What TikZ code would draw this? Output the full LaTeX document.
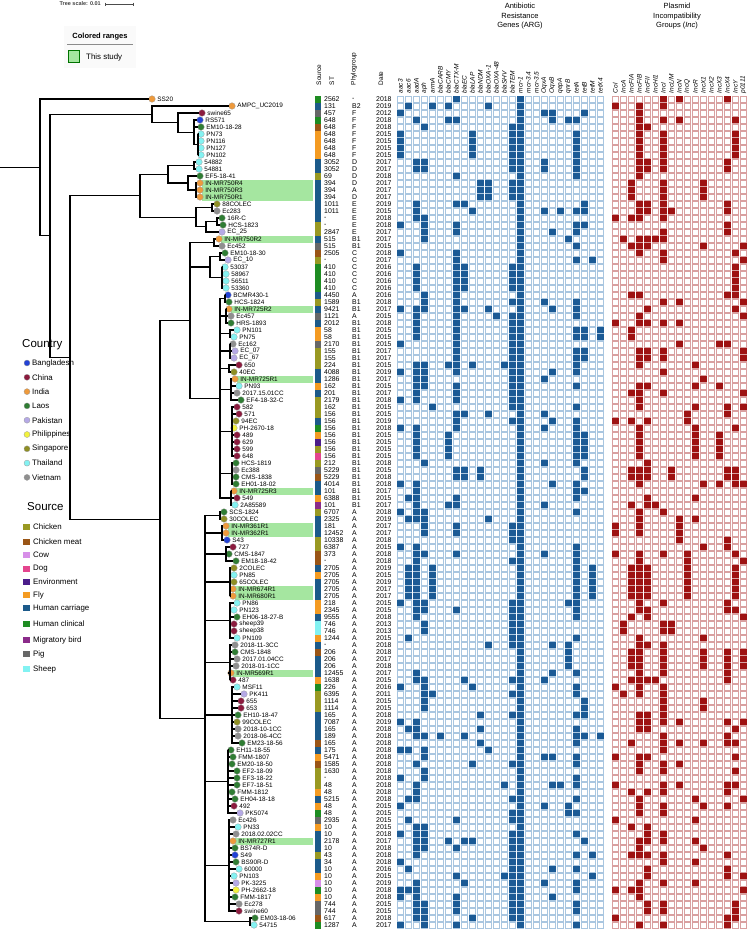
\documentclass[tikz,border=0pt]{standalone}
\usepackage{fontspec}
\setmainfont{Liberation Sans}
\usetikzlibrary{calc}
\definecolor{cBan}{HTML}{2342D6}
\definecolor{cChi}{HTML}{8C1B3E}
\definecolor{cInd}{HTML}{EE9A3C}
\definecolor{cLao}{HTML}{2F7D33}
\definecolor{cPak}{HTML}{B5A9E6}
\definecolor{cPhi}{HTML}{F2F23E}
\definecolor{cSin}{HTML}{8F8F24}
\definecolor{cTha}{HTML}{84F2F2}
\definecolor{cVie}{HTML}{8F8F8F}
\definecolor{sK}{HTML}{999922}
\definecolor{sM}{HTML}{9A5516}
\definecolor{sW}{HTML}{D78FE8}
\definecolor{sG}{HTML}{E4458E}
\definecolor{sE}{HTML}{4B1D8A}
\definecolor{sF}{HTML}{F49B22}
\definecolor{sH}{HTML}{1C5A8A}
\definecolor{sC}{HTML}{1E8C22}
\definecolor{sB}{HTML}{8B2B8A}
\definecolor{sP}{HTML}{676767}
\definecolor{sS}{HTML}{82F2F2}
\definecolor{hlg}{HTML}{A5E6A0}
\definecolor{argf}{HTML}{1B5A95}
\definecolor{argl}{HTML}{A9C6E0}
\definecolor{incf}{HTML}{9E1212}
\definecolor{incl}{HTML}{D9A0A0}
\tikzset{
 leaf/.style={circle,minimum size=6.6pt,inner sep=0pt,draw=black!40,line width=0.3pt},
 lbl/.style={font=\fontsize{6.4}{7}\selectfont,inner sep=0.8pt,anchor=west},
 col/.style={font=\fontsize{6.9}{8}\selectfont,inner sep=0pt,anchor=west},
 hdr/.style={font=\fontsize{6.5}{7}\selectfont,inner sep=0.5pt,rotate=90,anchor=west},
 branch/.style={line width=1.1pt,black},
 ecellA/.style={fill=white,draw=argl,line width=0.7pt},
 ecellI/.style={fill=white,draw=incl,line width=0.7pt},
 legtxt/.style={font=\fontsize{7.9}{9}\selectfont,inner sep=0pt,anchor=west},
 legttl/.style={font=\fontsize{11.5}{13}\selectfont,inner sep=0pt,anchor=west}
}
\newcommand\clade[5]{\path let \p1=($(#3)!0.5!(#4)$) in coordinate (#1) at (#2,\y1);
  \foreach \ch in {#5}{\draw[branch] (#1) |- (\ch);}}
\newcommand\cladeR[4]{\path let \p1=($(L#3)!0.5!(L#4)$) in coordinate (#1) at (#2,\y1);
  \foreach \k in {#3,...,#4}{\draw[branch] (#1) |- (L\k);}}
\newcommand\HA[2]{\foreach \c in {#2}{\fill[argf] ({397+8*\c},{99+7*(#1-1)-3}) rectangle ++(6.6,6);}}
\newcommand\HI[2]{\foreach \c in {#2}{\fill[incf] ({612+8*\c},{99+7*(#1-1)-3}) rectangle ++(6.6,6);}}
\begin{document}
\begin{tikzpicture}[x=1pt,y=-1pt]
\useasboundingbox (0,0) rectangle (750,929);
% tree scale
\node[font=\fontsize{5.5}{6}\selectfont\bfseries,text=black!75,anchor=east,inner sep=0pt] (tsc) at (101,4) {Tree scale: 0.01};
\coordinate (sb1) at (105,4); \coordinate (sb2) at (133,4);
\draw[black!70,line width=0.5pt] (sb1) -- (sb2);
\draw[black!70,line width=0.5pt] (105,2.5) -- (105,5.5) (133,2.5) -- (133,5.5);
% colored ranges legend
\fill[black!2] (64,26) rectangle (136,68);
\node[font=\fontsize{7.5}{9}\selectfont\bfseries,inner sep=0pt] (crt) at (100,37) {Colored ranges};
\draw[black!45,line width=0.6pt] (67,44.5) -- (133,44.5);
\node[draw=green!45!black,fill=hlg,minimum width=11pt,minimum height=12pt,inner sep=0pt,line width=0.6pt] (crb) at (74,56.5) {};
\node[legtxt] (crl) at (86,57) {This study};
% titles
\node[font=\fontsize{7.5}{9.5}\selectfont,align=center,inner sep=0pt,anchor=north] (targ) at (520,3) {Antibiotic\\Resistance\\Genes (ARG)};
\node[font=\fontsize{7.5}{9.5}\selectfont,align=center,inner sep=0pt,anchor=north] (tinc) at (677,3) {Plasmid\\Incompatibility\\Groups (\textit{Inc})};
% column headers
\node[hdr] (hsrc) at (319,86) {Source};
\node[hdr] (hst) at (332,86) {ST};
\node[hdr] (hpg) at (354,86) {Phylogroup};
\node[hdr] (hdt) at (381,86) {Date};
\foreach \g [count=\k from 0] in {aac3,aac6,aadA,aph,armA,blaCARB,blaCMY,blaCTX-M,blaEC,blaLAP,blaNDM,blaOXA-1,blaOXA-48,blaSHV,blaTEM,mcr-1,mcr-3.4,mcr-3.5,OqxA,OqxB,qepA,qnrB,tetA,tetB,tetM,tetX4}
  {\node[hdr] (ha\k) at ({400.3+8*\k},94) {\textit{\g}};}
\foreach \g [count=\k from 0] in {Col,IncA,IncFIA,IncFIB,IncFII,IncHI1,IncI,IncL/M,IncN,IncQ,IncR,IncX1,IncX2,IncX3,IncX4,IncY,p0111}
  {\node[hdr] (hi\k) at ({615.3+8*\k},94) {\textit{\g}};}
% highlights (this study)
\foreach \i/\px in {13/200,14/200,15/200,21/219,31/229,41/235,57/234,62/226,63/226,71/233,72/233,83/231,107/233}
  {\fill[hlg] ({\px+2},{99+7*(\i-1)-3.5}) rectangle (313,{99+7*(\i-1)+3.5});}
% empty heatmap cells
\foreach \i in {1,...,119}{
  \foreach \c in {0,...,25}{\filldraw[ecellA] ({397+8*\c},{99+7*(\i-1)-3}) rectangle ++(6.6,6);}
  \foreach \c in {0,...,16}{\filldraw[ecellI] ({612+8*\c},{99+7*(\i-1)-3}) rectangle ++(6.6,6);}
  \fill[argf] ({397+8*15},{99+7*(\i-1)-3}) rectangle ++(6.6,6);
}
% filled cells
\HA{1}{7} \HI{1}{6,8,14}
\HA{2}{1,4,6,11} \HI{2}{0,3,6}
\HA{3}{0,18,19,23} \HI{3}{3}
\foreach \i/\sd in {4/4,5/5,6/6,7/6,8/6,9/6,10/10,11/10,12/12,13/13,14/13,15/13,16/16,17/17,18/18,19/19,20/20,
 21/21,22/22,23/23,24/24,25/25,26/25,27/25,28/25,29/29,30/30,31/31,32/32,33/33,34/34,35/34,36/36,37/37,38/37,39/39,40/40,
 41/41,42/42,43/43,44/44,45/45,46/46,47/47,48/48,49/49,50/49,51/49,52/49,53/53,54/54,55/54,56/56,57/57,58/58,59/59,60/60,
 61/61,62/62,63/62,64/64,65/65,66/66,67/67,68/68,69/68,70/68,71/68,72/68,73/73,74/74,75/75,76/76,77/76,78/78,79/79,80/80,
 81/80,82/80,83/83,84/84,85/85,86/86,87/87,88/87,89/89,90/90,91/91,92/92,93/93,94/94,95/95,96/96,97/97,98/98,99/99,100/100,
 101/101,102/102,103/103,104/104,105/105,106/106,107/107,108/108,109/109,110/110,111/111,112/112,113/113,114/114,115/115,
 116/116,117/116,118/118,119/119}{
  \pgfmathsetseed{\sd*37+11}
  \foreach \c/\p in {0/.25,1/.08,2/.55,3/.42,4/.03,5/.02,6/.05,7/.42,8/.08,9/.08,10/.05,11/.05,12/.01,13/.05,14/.5,16/0,17/0,18/.1,19/.1,20/.02,21/.1,22/.55,23/.15,24/.03,25/.02}{
    \pgfmathtruncatemacro\hit{rnd<\p}
    \ifnum\hit=1 \fill[argf] ({397+8*\c},{99+7*(\i-1)-3}) rectangle ++(6.6,6);\fi}
  \foreach \c/\p in {0/.15,1/.02,2/.2,3/.55,4/.4,5/.05,6/.45,7/.02,8/.1,9/.05,10/.1,11/.15,12/.02,13/.05,14/.25,15/.2,16/.2}{
    \pgfmathtruncatemacro\hit{rnd<\p}
    \ifnum\hit=1 \fill[incf] ({612+8*\c},{99+7*(\i-1)-3}) rectangle ++(6.6,6);\fi}
}
% rows
\foreach \i/\px/\nm/\cc/\sc/\st/\pg/\dt in {
1/152/SS20/Ind/C/2562/-/2018,
2/232/AMPC\_UC2019/Ind/H/131/B2/2019,
3/202/swine65/Chi/P/457/F/2012,
4/200/RS571/Ban/C/648/F/2018,
5/201/EM10-18-28/Lao/M/648/F/2018,
6/201/PN73/Tha/F/648/F/2015,
7/201/PN116/Tha/F/648/F/2015,
8/201/PN127/Tha/F/648/F/2015,
9/201/PN102/Tha/F/648/F/2015,
10/199/54882/Tha/H/3052/D/2017,
11/199/54881/Tha/H/3052/D/2017,
12/200/EF5-18-41/Lao/K/69/D/2018,
13/200/IN-MR750R4/Ind/H/394/D/2017,
14/200/IN-MR750R3/Ind/H/394/A/2017,
15/200/IN-MR750R1/Ind/H/394/D/2017,
16/217/88COLEC/Sin/H/1011/E/2019,
17/217/Ec283/Vie/H/1011/E/2015,
18/222/16R-C/Lao/H/-/E/2018,
19/223/HCS-1823/Lao/K/-/E/2018,
20/222/EC\_25/Pak/K/2847/E/2017,
21/219/IN-MR750R2/Ind/H/515/B1/2017,
22/222/Ec452/Vie/P/515/B1/2015,
23/225/EM10-18-30/Lao/M/2505/C/2018,
24/228/EC\_10/Pak/K/-/C/2017,
25/225/53037/Tha/C/410/C/2016,
26/226/58967/Tha/C/410/C/2016,
27/226/56511/Tha/C/410/C/2016,
28/226/53360/Tha/C/410/C/2016,
29/228/BCMR430-1/Ban/H/4450/A/2016,
30/229/HCS-1824/Lao/K/1589/B1/2018,
31/229/IN-MR725R2/Ind/H/9421/B1/2017,
32/231/Ec457/Vie/P/1121/A/2015,
33/231/HRS-1893/Lao/H/2012/B1/2018,
34/237/PN101/Tha/F/58/B1/2015,
35/234/PN75/Tha/F/58/B1/2015,
36/233/Ec162/Vie/P/2170/B1/2015,
37/235/EC\_07/Pak/K/155/B1/2017,
38/234/EC\_67/Pak/K/155/B1/2017,
39/239/650/Chi/K/224/B1/2015,
40/234/40EC/Sin/H/4088/B1/2019,
41/235/IN-MR725R1/Ind/H/1286/B1/2017,
42/239/PN93/Tha/F/162/B1/2015,
43/237/2017.15.01CC/Vie/H/201/B1/2017,
44/241/EF4-18-32-C/Lao/K/2179/B1/2018,
45/237/582/Chi/K/162/B1/2015,
46/239/571/Chi/K/156/B1/2015,
47/236/94EC/Sin/H/156/B1/2019,
48/234/PH-2670-18/Phi/C/156/B1/2018,
49/237/489/Chi/F/156/B1/2015,
50/237/629/Chi/E/156/B1/2015,
51/237/599/Chi/K/156/B1/2015,
52/237/648/Chi/G/156/B1/2015,
53/236/HCS-1819/Lao/K/212/B1/2018,
54/236/Ec388/Vie/P/5229/B1/2015,
55/236/CMS-1838/Lao/M/5229/B1/2018,
56/236/EH01-18-02/Lao/H/4014/B1/2018,
57/234/IN-MR725R3/Ind/H/101/B1/2017,
58/237/549/Chi/F/6388/B1/2015,
59/235/2A85589/Tha/B/101/B1/2017,
60/224/SCS-1824/Lao/K/6707/A/2018,
61/224/30COLEC/Sin/H/2325/A/2019,
62/226/IN-MR361R1/Ind/H/181/A/2017,
63/226/IN-MR362R1/Ind/H/12452/A/2017,
64/227/S43/Ban/K/10338/A/2018,
65/233/727/Chi/K/6387/A/2015,
66/229/CMS-1847/Lao/M/373/A/2018,
67/236/EM18-18-42/Lao/M/-/A/2018,
68/234/2COLEC/Sin/H/2705/A/2019,
69/234/PN85/Tha/F/2705/A/2015,
70/234/65COLEC/Sin/H/2705/A/2019,
71/233/IN-MR674R1/Ind/H/2705/A/2017,
72/233/IN-MR680R1/Ind/H/2705/A/2017,
73/237/PN86/Tha/F/218/A/2015,
74/234/PN123/Tha/F/2345/A/2015,
75/237/EH06-18-27-B/Lao/H/9555/A/2018,
76/234/sheep39/Chi/S/746/A/2013,
77/234/sheep38/Chi/S/746/A/2013,
78/237/PN109/Tha/F/1244/A/2015,
79/235/2018-11-3CC/Vie/H/-/A/2018,
80/235/CMS-1848/Lao/M/206/A/2018,
81/237/2017.01.04CC/Vie/H/206/A/2017,
82/236/2018-01-1CC/Vie/H/206/A/2018,
83/231/IN-MR569R1/Ind/H/12455/A/2017,
84/233/487/Chi/F/1638/A/2015,
85/237/MSF11/Tha/C/226/A/2016,
86/244/PK411/Pak/K/6395/A/2011,
87/241/655/Chi/K/1114/A/2015,
88/241/653/Chi/K/1114/A/2015,
89/238/EH10-18-47/Lao/H/165/A/2018,
90/237/99COLEC/Sin/H/7087/A/2019,
91/238/2018-10-1CC/Vie/H/165/A/2018,
92/238/2018-06-4CC/Vie/H/189/A/2018,
93/242/EM23-18-56/Lao/M/165/A/2018,
94/231/EH11-18-55/Lao/H/175/A/2018,
95/233/FMM-1807/Lao/F/5471/A/2018,
96/232/EM20-18-50/Lao/M/1585/A/2018,
97/237/EF2-18-09/Lao/K/1630/A/2018,
98/237/EF3-18-22/Lao/K/-/A/2018,
99/237/EF7-18-51/Lao/K/48/A/2018,
100/232/FMM-1812/Lao/F/48/A/2018,
101/235/EH04-18-18/Lao/H/5215/A/2018,
102/234/492/Chi/F/48/A/2015,
103/240/PK5074/Pak/C/48/A/2015,
104/233/Ec426/Vie/P/2935/A/2015,
105/238/PN33/Tha/F/10/A/2015,
106/236/2018.02.02CC/Vie/H/10/A/2018,
107/233/IN-MR727R1/Ind/H/2178/A/2017,
108/235/BS74R-D/Lao/H/10/A/2018,
109/235/S49/Ban/K/43/A/2018,
110/236/BS90R-D/Lao/H/34/A/2018,
111/239/60000/Tha/H/10/A/2016,
112/234/PN103/Tha/F/10/A/2015,
113/236/PK-3225/Pak/W/10/A/2019,
114/236/PH-2662-18/Phi/C/10/A/2018,
115/235/FMM-1817/Lao/F/10/A/2018,
116/239/Ec278/Vie/P/744/A/2015,
117/239/swine60/Chi/P/744/A/2015,
118/255/EM03-18-06/Lao/M/617/A/2018,
119/254/54715/Tha/C/1287/A/2017}{
  \pgfmathsetmacro\yy{99+7*(\i-1)}
  \node[leaf,fill=c\cc] (L\i) at (\px,\yy) {};
  \node[lbl] (T\i) at ([xshift=1pt]L\i.east) {\nm};
  \fill[s\sc] (315,{\yy-3.5}) rectangle (321,{\yy+3.5});
  \node[col] (S\i) at (324,\yy) {\st};
  \node[col] (P\i) at (352,\yy) {\pg};
  \node[col] (D\i) at (376,\yy) {\dt};
}
% tree
\cladeR{f3}{198}{6}{9}
\clade{f2}{194}{L4}{f3}{L4,L5,f3}
\clade{f1}{178}{L3}{f2}{L3,f2}
\clade{bf}{152}{L2}{f1}{L2,f1}
\cladeR{d3}{196}{13}{15}
\clade{d2}{188}{L12}{d3}{L12,d3}
\cladeR{d1}{194}{10}{11}
\clade{d}{168}{d1}{d2}{d1,d2}
\cladeR{e1}{212}{16}{17}
\cladeR{e3}{217}{18}{19}
\clade{e2}{206}{e3}{L20}{e3,L20}
\clade{e}{196}{e1}{e2}{e1,e2}
\clade{de}{140}{d}{e}{d,e}
\cladeR{b1}{214}{21}{22}
\cladeR{c0}{220}{23}{24}
\cladeR{c1}{222}{25}{28}
\clade{c}{210}{c0}{c1}{c0,c1}
\cladeR{g1}{225}{29}{30}
\cladeR{g2}{226}{31}{33}
\cladeR{g3}{230}{34}{35}
\cladeR{g4}{230}{36}{38}
\cladeR{g5}{229}{39}{40}
\cladeR{g6}{231}{41}{44}
\cladeR{g7}{232}{45}{52}
\cladeR{g8}{232}{53}{56}
\cladeR{g9}{231}{57}{59}
\clade{gb}{220}{g1}{g9}{g1,g2,g3,g4,g5,g6,g7,g8,g9}
\clade{bc}{190}{b1}{gb}{b1,c,gb}
\cladeR{a1}{220}{60}{61}
\cladeR{a2}{222}{62}{64}
\cladeR{a3}{226}{65}{67}
\cladeR{a4}{230}{68}{72}
\cladeR{a5}{230}{73}{78}
\cladeR{a6}{230}{79}{84}
\cladeR{a7}{232}{85}{93}
\cladeR{a8}{228}{94}{103}
\cladeR{a9}{229}{104}{117}
\cladeR{a10}{250}{118}{119}
\clade{a}{205}{a1}{a10}{a1,a2,a3,a4,a5,a6,a7,a8,a9,a10}
\clade{abc}{160}{bc}{a}{bc,a}
\clade{x}{70}{de}{abc}{de,abc}
\clade{y}{50}{bf}{x}{bf,x}
\clade{root}{40}{L1}{y}{L1,y}
\path let \p1=(root) in coordinate (r0) at (0,\y1);
\draw[branch] (r0) -- (root);
% country legend
\node[legttl] (ctt) at (22,345) {Country};
\foreach \cn/\cc [count=\k from 0] in {Bangladesh/Ban,China/Chi,India/Ind,Laos/Lao,Pakistan/Pak,Philippines/Phi,Singapore/Sin,Thailand/Tha,Vietnam/Vie}{
  \node[leaf,fill=c\cc,minimum size=6pt] (cl\k) at (27,{363+14.3*\k}) {};
  \node[legtxt] (ct\k) at (32,{363+14.3*\k}) {\cn};
}
\node[legttl] (stt) at (27,507) {Source};
\foreach \sn/\sc/\yy [count=\k from 0] in {Chicken/K/527,Chicken meat/M/542,Cow/W/555,Dog/G/569,Environment/E/582,Fly/F/595,Human carriage/H/608,Human clinical/C/624,Migratory bird/B/640,Pig/P/654,Sheep/S/669}{
  \fill[s\sc] (23,{\yy-3.3}) rectangle (30,{\yy+3.3});
  \node[legtxt] (sl\k) at (33,\yy) {\sn};
}
\end{tikzpicture}
\end{document}
